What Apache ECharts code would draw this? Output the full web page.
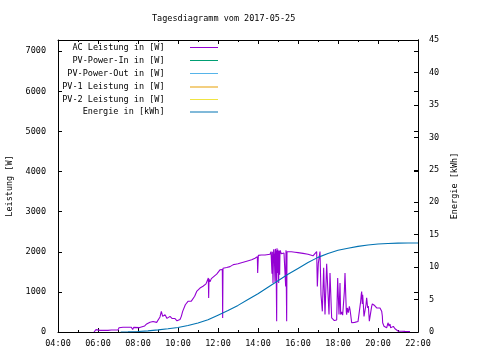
<!DOCTYPE html>
<html><head><meta charset="utf-8">
<script src="https://cdn.jsdelivr.net/npm/echarts@6/dist/echarts.min.js"></script>
<style>html,body{margin:0;padding:0;background:#fff}#c{width:480px;height:360px}</style>
</head><body><div id="c"></div>
<script>
// ---------- data ----------
const chartTitle = 'Tagesdiagramm vom 2017-05-25';
const seriesNames = ['AC Leistung in [W]', 'PV-Power-In in [W]', 'PV-Power-Out in [W]',
  'PV-1 Leistung in [W]', 'PV-2 Leistung in [W]', 'Energie in [kWh]'];
const xTickLabels = ['04:00','06:00','08:00','10:00','12:00','14:00','16:00','18:00','20:00','22:00'];
const leftTickLabels = ['0','1000','2000','3000','4000','5000','6000','7000'];
const rightTickLabels = ['0','5','10','15','20','25','30','35','40','45'];

const acTimes = ['05:48','05:52','05:54','05:56','06:06','06:30','06:32','06:34','06:40','07:00',
 '07:03','07:15','07:40','07:44','07:47','08:05','08:08','08:20','08:26','08:28',
 '08:36','08:45','08:50','08:56','09:00','09:06','09:10','09:14','09:18','09:21',
 '09:27','09:33','09:36','09:42','09:48','09:51','09:57','10:00','10:06','10:10',
 '10:14','10:18','10:22','10:26','10:30','10:40','10:45','10:50','10:56','11:06',
 '11:12','11:15','11:24','11:31','11:32','11:33','11:36','11:40','11:46','11:56',
 '12:06','12:11','12:13','12:14','12:15','12:26','12:36','12:46','12:50','12:53',
 '12:56','13:00','13:06','13:26','13:41','13:51','13:56','13:58','13:59','14:01',
 '14:10','14:21','14:26','14:36','14:39','14:40',
 '14:42','14:43','14:45','14:47','14:49','14:51','14:52','14:54','14:56','14:57',
 '14:58','15:00','15:02','15:03','15:05','15:06','15:10','15:14','15:18','15:22',
 '15:23','15:24','15:26','15:27','15:30','15:40','15:51','16:00','16:15','16:30',
 '16:45','16:51','16:56','16:58','17:01','17:06','17:09','17:13','17:17','17:21',
 '17:26','17:29','17:33','17:36','17:41','17:46','17:49','17:56','17:59','18:03',
 '18:06','18:08','18:11','18:14','18:16','18:19','18:21','18:24','18:25','18:26',
 '18:28','18:31','18:34','18:36','18:38','18:41','18:46','18:50','18:55','19:00',
 '19:06','19:08','19:10','19:11','19:13','19:14','19:16','19:18','19:21','19:24',
 '19:26','19:29','19:31','19:34','19:38','19:40','19:41','19:43','19:46','19:50',
 '19:54','19:56','20:01','20:06','20:08','20:11','20:13','20:14','20:18','20:21',
 '20:26','20:30','20:33','20:36','20:38','20:41','20:44','20:46','20:51','20:56',
 '21:01','21:11','21:16','21:21','21:36'];
const acValues = [0,35,60,37,40,40,80,45,50,50,
 104,120,120,60,115,110,145,150,200,165,
 245,260,270,240,265,375,515,390,360,430,
 340,310,390,340,320,335,280,270,310,390,
 515,560,680,700,765,770,800,890,1010,1095,
 1100,1140,1200,1345,850,1320,1250,1330,1345,1445,
 1550,1590,1560,350,1590,1610,1630,1680,1720,1690,
 1730,1700,1720,1765,1800,1840,1860,1880,1470,1910,
 1920,1920,1940,1940,2005,2050,
 1450,2000,1220,2060,1900,1250,2070,2000,270,2090,
 1470,2050,1220,2020,1430,2040,1950,1950,1970,2000,
 1135,2040,270,2000,2020,2000,1990,1980,1960,1940,
 1900,1910,2005,1135,1715,2005,930,515,1600,435,
 1700,1135,435,1470,350,350,285,300,1345,435,
 1220,435,500,420,435,1000,1470,1480,500,430,
 600,480,640,560,435,230,230,240,220,260,
 235,765,950,1010,700,930,680,390,430,680,
 850,600,650,270,230,300,640,700,690,660,
 620,600,640,600,560,520,400,230,145,185,
 105,230,150,200,105,140,80,140,80,40,
 20,20,40,15,10];

const energyTimes = ['07:08','07:30','08:00','08:30','09:00','09:30','10:00','10:30','11:00','11:30',
 '12:00','12:30','13:00','13:30','14:00','14:30','15:00','15:30','16:00','16:30',
 '17:00','17:30','18:00','18:30','19:00','19:30','20:00','20:30','21:00','21:30','22:00'];
const energyValues = [0,0.02,0.08,0.18,0.33,0.5,0.7,1.0,1.4,1.9,
 2.6,3.3,4.1,5.0,5.9,6.9,7.9,8.9,9.8,10.7,
 11.5,12.1,12.6,12.9,13.2,13.4,13.55,13.65,13.7,13.72,13.72];

// ---------- styles ----------
const colors = ['#9400d3','#009e73','#56b4e9','#e69f00','#f0e442','#0072b2'];
const FONT = 'DejaVu Sans Mono';
const FS = 8.5;

function toHours(s){ const p = s.split(':'); return +p[0] + (+p[1])/60; }
function pairs(ts, vs){ return ts.map((t,i)=>[toHours(t), vs[i]]); }

const gridRect = {left:58, right:62, top:40, bottom:28, outerBoundsMode:'none', containLabel:false};
const txt = {fontFamily:FONT, fontSize:FS, color:'#000'};
const line = {show:true, onZero:false, lineStyle:{color:'#000', width:1}};
const tick = {show:true, inside:true, length:4, lineStyle:{color:'#000', width:1}};
const minor = {show:true, splitNumber:2, length:2, lineStyle:{color:'#000', width:1}};

const legendTops = [43, 56, 69, 82.5, 95, 107.5];
const legends = seriesNames.map((n,i)=>({
  data:[n], right:262, top:legendTops[i], orient:'horizontal', align:'right',
  itemWidth:28, itemHeight:1, icon:'rect', padding:0, selectedMode:false,
  textStyle:txt, formatter: s => s + '    '
}));

const series = seriesNames.map((n,i)=>({
  name:n, type:'line', symbol:'none', showSymbol:false, animation:false,
  xAxisIndex:0, yAxisIndex: i===5 ? 1 : 0,
  color:colors[i], lineStyle:{color:colors[i], width:1.1},
  data: i===0 ? pairs(acTimes, acValues) : (i===5 ? pairs(energyTimes, energyValues) : [])
}));

const chart = echarts.init(document.getElementById('c'), null, {renderer:'canvas'});
chart.setOption({
  animation:false,
  backgroundColor:'#fff',
  title:{text:chartTitle, left:152, top:14, padding:0, textStyle:{...txt, fontWeight:'normal'}},
  legend: legends,
  grid:[gridRect, {...gridRect}],
  xAxis:[
    {type:'value', gridIndex:0, position:'bottom', min:4, max:22, interval:2,
     axisLine:line, axisTick:tick, minorTick:minor, splitLine:{show:false},
     axisLabel:{...txt, margin:7, formatter:v => xTickLabels[(v-4)/2] || ''}},
    {type:'value', gridIndex:1, position:'top', min:4, max:22, interval:2,
     axisLine:line, axisTick:tick, minorTick:minor, splitLine:{show:false}, axisLabel:{show:false}}
  ],
  yAxis:[
    {type:'value', gridIndex:0, position:'left', min:0, max:7280, interval:1000,
     axisLine:line, axisTick:tick, splitLine:{show:false},
     axisLabel:{...txt, margin:12, formatter:v => (v%1000===0 ? (leftTickLabels[v/1000]||'') : '')},
     name:'Leistung [W]', nameLocation:'middle', nameRotate:90, nameGap:36, nameTextStyle:txt},
    {type:'value', gridIndex:0, position:'right', min:0, max:45, interval:5,
     axisLine:line, axisTick:tick, splitLine:{show:false},
     axisLabel:{...txt, margin:11, formatter:v => (v%5===0 ? (rightTickLabels[v/5]||'') : '')},
     name:'Energie [kWh]', nameLocation:'middle', nameRotate:90, nameGap:30, nameTextStyle:txt},
    {type:'value', gridIndex:1, position:'right', min:0, max:7280, interval:1000,
     axisLine:line, axisTick:tick, splitLine:{show:false}, axisLabel:{show:false}}
  ],
  series: series
});
</script></body></html>
